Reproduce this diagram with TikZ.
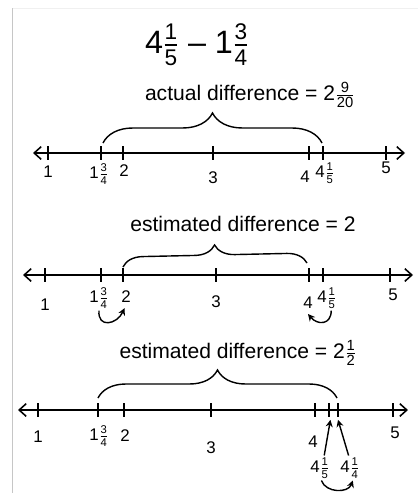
\documentclass[tikz,border=0pt]{standalone}
\usepackage{amsmath}
\usepackage{fontspec}
\setmainfont{Liberation Sans}
\usetikzlibrary{arrows.meta, decorations.pathreplacing}
\newcommand{\mfrac}[2]{\(\frac{\text{#1}}{\text{#2}}\)}
\tikzset{
  numline/.style={{Straight Barb[length=5pt,width=9pt]}-{Straight Barb[length=5pt,width=9pt]}, line width=1.1pt},
  tickmark/.style={line width=1.1pt},
  lbl/.style={font=\fontsize{12}{14}\selectfont, inner sep=0.5pt},
  diffcap/.style={font=\fontsize{15}{17}\selectfont, inner sep=1pt},
  brc/.style={decorate, decoration={brace, amplitude=#1}, line width=1pt},
  hop/.style={-{Stealth[length=5pt,width=5pt]}, line width=1pt},
}

\begin{document}
\begin{tikzpicture}[x=0.025cm, y=-0.025cm]
  \useasboundingbox (0,0) rectangle (418,493);
  \draw[gray!45] (12.5,8) -- (12.5,493);
  \draw[gray!12] (12.5,8) -- (418,8);

  % the problem
  \node[font=\fontsize{23}{27}\selectfont] (prob) at (197,45) {4\mfrac{1}{5} -- 1\mfrac{3}{4}};

  % actual difference
  \coordinate (a1) at (33,153);
  \coordinate (a2) at (405,153);
  \draw[numline] (a1) -- (a2);
  \foreach \x in {48,101,123,213,309,323,386}
    \draw[tickmark] (\x,146) -- (\x,160);
  \node[lbl] (p1) at (48,172) {1};
  \node[lbl] (p134) at (99,174) {1\mfrac{3}{4}};
  \node[lbl] (p2) at (124,171) {2};
  \node[lbl] (p3) at (213,178) {3};
  \node[lbl] (p4) at (305,177) {4};
  \node[lbl] (p415) at (325,173) {4\mfrac{1}{5}};
  \node[lbl] (p5) at (386,168) {5};
  \draw[brc=0.75cm] (103,143) -- (322,143);
  \node[diffcap] (actual) at (250,95) {actual difference = 2\mfrac{9}{20}};

  % estimate to whole numbers
  \coordinate (b1) at (23,275);
  \coordinate (b2) at (413,275);
  \draw[numline] (b1) -- (b2);
  \foreach \x in {45,101,123,216,309,323,390}
    \draw[tickmark] (\x,268) -- (\x,282);
  \node[lbl] (q1) at (45,305) {1};
  \node[lbl] (q134) at (99,298) {1\mfrac{3}{4}};
  \node[lbl] (q2) at (126,297) {2};
  \node[lbl] (q3) at (216,302) {3};
  \node[lbl] (q4) at (308,303) {4};
  \node[lbl] (q415) at (327,298) {4\mfrac{1}{5}};
  \node[lbl] (q5) at (393,295) {5};
  \draw[brc=0.5cm] (123,267) -- (307,263);
  \node[diffcap] (whole) at (243,224) {estimated difference = 2};
  \draw[hop] ([yshift=-1pt]q134.south) to[out=-95,in=-115,looseness=1.8] ([xshift=-1pt,yshift=-3pt]q2.south);
  \draw[hop] ([xshift=3pt,yshift=-1pt]q415.south) to[out=-90,in=-50,looseness=1.6] ([yshift=-3pt]q4.south);

  % estimate to halves
  \coordinate (c1) at (18,410);
  \coordinate (c2) at (408,410);
  \draw[numline] (c1) -- (c2);
  \foreach \x in {38,98,124,211,315,393}
    \draw[tickmark] (\x,403) -- (\x,417);
  \coordinate (t415) at (329,410);
  \coordinate (t414) at (338,410);
  \draw[tickmark] (329,403) -- (329,417);
  \draw[tickmark] (338,403) -- (338,417);
  \node[lbl] (r1) at (38,437) {1};
  \node[lbl] (r134) at (99,436) {1\mfrac{3}{4}};
  \node[lbl] (r2) at (125,436) {2};
  \node[lbl] (r3) at (211,448) {3};
  \node[lbl] (r4) at (313,442) {4};
  \node[lbl] (r415) at (320,468) {4\mfrac{1}{5}};
  \node[lbl] (r414) at (350,468) {4\mfrac{1}{4}};
  \node[lbl] (r5) at (395,433) {5};
  \draw[brc=0.7cm] (98,398) -- (337,398);
  \node[diffcap] (halves) at (238,353) {estimated difference = 2\mfrac{1}{2}};
  \draw[hop] ([xshift=3pt,yshift=1pt]r415.north) -- ([xshift=1pt,yshift=-7pt]t415);
  \draw[hop] ([xshift=-1pt,yshift=1pt]r414.north) -- ([xshift=0pt,yshift=-7pt]t414);
  \draw[hop] ([xshift=1pt,yshift=-1pt]r415.south) to[out=-70,in=-110,looseness=1.1] ([xshift=2pt,yshift=-1pt]r414.south);
\end{tikzpicture}
\end{document}
